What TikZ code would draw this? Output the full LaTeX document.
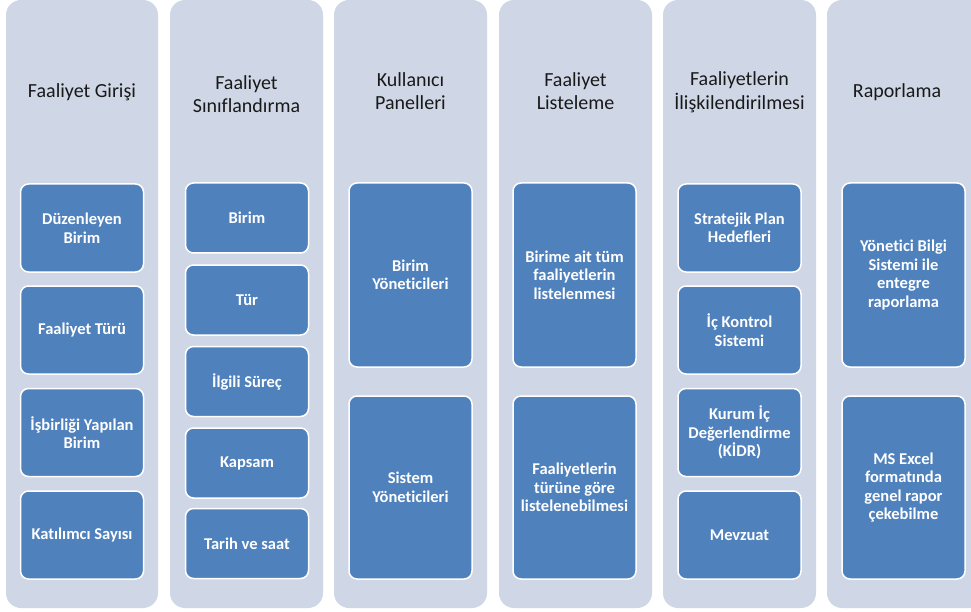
\documentclass[tikz,border=0pt]{standalone}
\usepackage{fontspec}
\setmainfont[Ligatures=NoCommon]{Carlito}
\definecolor{colbg}{HTML}{CFD7E6}
\definecolor{boxblue}{HTML}{4F81BD}
\begin{document}
\begin{tikzpicture}[x=1pt,y=-1pt,
  column/.style={fill=colbg, draw=none, rounded corners=15pt},
  title/.style={align=center, font=\fontsize{20}{23.5}\selectfont, text=black!90, inner sep=0pt},
  item/.style={fill=boxblue, draw=white, line width=1.5pt, rounded corners=8pt,
    minimum width=123pt, align=center, text=white, inner sep=2pt,
    font=\fontsize{16.5}{18.5}\selectfont\bfseries}]
\useasboundingbox (0,0) rectangle (971,612);
\fill[white] (0,0) rectangle (971,612);
% columns
\path[column] (6,0) rectangle (158,608);
\path[column] (170,0) rectangle (323,608);
\path[column] (334,0) rectangle (487,608);
\path[column] (499,0) rectangle (652,608);
\path[column] (663,0) rectangle (816,608);
\path[column] (827,0) rectangle (985,608);
% titles
\node[title] (t1) at (82,92) {Faaliyet Girişi};
\node[title] (t2) at (246.5,94) {Faaliyet\\Sınıflandırma};
\node[title] (t3) at (410.5,91) {Kullanıcı\\Panelleri};
\node[title] (t4) at (575.5,91) {Faaliyet\\Listeleme};
\node[title] (t5) at (739.5,92) {Faaliyetlerin\\İlişkilendirilmesi};
\node[title] (t6) at (897,92) {Raporlama};
% column 1
\node[item, minimum height=88pt] (a1) at (82,228) {Düzenleyen\\Birim};
\node[item, minimum height=88pt] (a2) at (82,330) {Faaliyet Türü};
\node[item, minimum height=88pt] (a3) at (82,432.5) {İşbirliği Yapılan\\Birim};
\node[item, minimum height=88pt] (a4) at (82,535) {Katılımcı Sayısı};
% column 2
\node[item, minimum height=70pt] (b1) at (247,218) {Birim};
\node[item, minimum height=70pt] (b2) at (247,300) {Tür};
\node[item, minimum height=70pt] (b3) at (247,381.5) {İlgili Süreç};
\node[item, minimum height=70pt] (b4) at (247,463) {Kapsam};
\node[item, minimum height=70pt] (b5) at (247,543.5) {Tarih ve saat};
% column 3
\node[item, minimum height=184pt] (c1) at (410.5,275) {Birim\\Yöneticileri};
\node[item, minimum height=183pt] (c2) at (410.5,487.5) {Sistem\\Yöneticileri};
% column 4
\node[item, minimum height=184pt] (d1) at (574.5,275) {Birime ait tüm\\faaliyetlerin\\listelenmesi};
\node[item, minimum height=183pt] (d2) at (574.5,487.5) {Faaliyetlerin\\türüne göre\\listelenebilmesi};
% column 5
\node[item, minimum height=88pt] (e1) at (739.5,228) {Stratejik Plan\\Hedefleri};
\node[item, minimum height=88pt] (e2) at (739.5,330) {İç Kontrol\\Sistemi};
\node[item, minimum height=88pt] (e3) at (739.5,432.5) {Kurum İç\\Değerlendirme\\(KİDR)};
\node[item, minimum height=88pt] (e4) at (739.5,535) {Mevzuat};
% column 6
\node[item, minimum height=184pt] (f1) at (903.5,275) {Yönetici Bilgi\\Sistemi ile\\entegre\\raporlama};
\node[item, minimum height=183pt] (f2) at (903.5,487.5) {MS Excel\\formatında\\genel rapor\\çekebilme};
\end{tikzpicture}
\end{document}
